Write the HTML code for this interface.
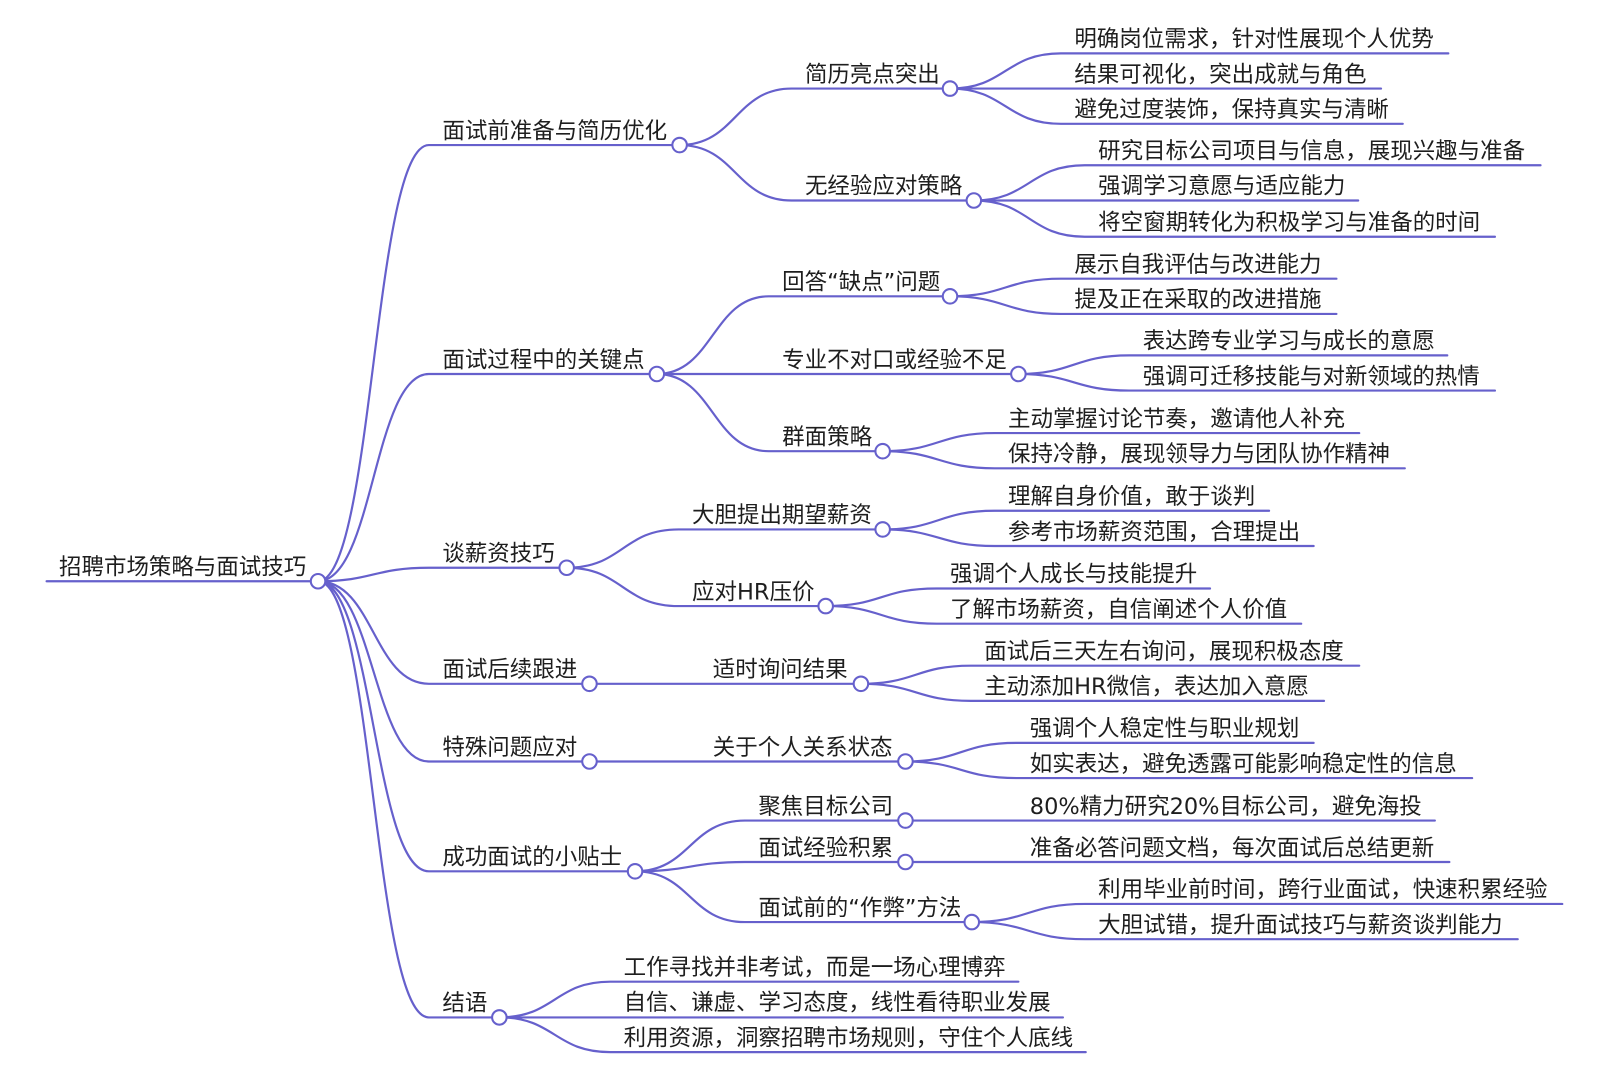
<!DOCTYPE html>
<html>
<head>
<meta charset="utf-8">
<style>
html,body{margin:0;padding:0;background:#fff;overflow:hidden;}
svg{display:block;}
text{font-family:"DejaVu Sans","Noto Sans CJK SC","WenQuanYi Zen Hei",sans-serif;font-size:21.7px;fill:#1e1e1e;}
.l{fill:none;stroke:#6660cc;stroke-width:2.1;stroke-linecap:round;}
.c{fill:#fff;stroke:#6660cc;stroke-width:2;}
</style>
</head>
<body>
<svg width="1623" height="1069" viewBox="0 0 1566.6 1031.8" preserveAspectRatio="none" xmlns="http://www.w3.org/2000/svg">
<g class="l">
<path d="M45 561H307"/>
<path d="M307 561C360.5 561 360.5 140 414 140H656"/>
<path d="M307 561C360.5 561 360.5 361 414 361H634"/>
<path d="M307 561C360.5 561 360.5 548 414 548H547"/>
<path d="M307 561C360.5 561 360.5 660 414 660H569"/>
<path d="M307 561C360.5 561 360.5 735 414 735H569"/>
<path d="M307 561C360.5 561 360.5 841 414 841H613"/>
<path d="M307 561C360.5 561 360.5 982 414 982H482"/>

<path d="M656 140C710 140 710 85.5 764 85.5H917"/>
<path d="M656 140C710 140 710 193.5 764 193.5H940"/>
<path d="M917 85.5C970.5 85.5 970.5 51.5 1024 51.5H1398"/>
<path d="M917 85.5H1333"/>
<path d="M917 85.5C970.5 85.5 970.5 119.5 1024 119.5H1354"/>
<path d="M940 193.5C993.5 193.5 993.5 159.5 1047 159.5H1487"/>
<path d="M940 193.5H1311"/>
<path d="M940 193.5C993.5 193.5 993.5 228.5 1047 228.5H1443"/>

<path d="M634 361C688 361 688 286 742 286H917"/>
<path d="M634 361H983"/>
<path d="M634 361C688 361 688 435.5 742 435.5H852"/>
<path d="M917 286C970.5 286 970.5 269 1024 269H1290"/>
<path d="M917 286C970.5 286 970.5 303 1024 303H1290"/>
<path d="M983 361C1036.5 361 1036.5 343 1090 343H1397"/>
<path d="M983 361C1036.5 361 1036.5 377 1090 377H1443"/>
<path d="M852 435.5C906 435.5 906 418 960 418H1312"/>
<path d="M852 435.5C906 435.5 906 452 960 452H1356"/>

<path d="M547 548C601 548 601 511 655 511H852"/>
<path d="M547 548C601 548 601 585 655 585H797"/>
<path d="M852 511C906 511 906 493 960 493H1225"/>
<path d="M852 511C906 511 906 527 960 527H1268"/>
<path d="M797 585C850.5 585 850.5 568 904 568H1168"/>
<path d="M797 585C850.5 585 850.5 602 904 602H1256"/>

<path d="M569 660H831"/>
<path d="M831 660C884 660 884 642.5 937 642.5H1312"/>
<path d="M831 660C884 660 884 676.5 937 676.5H1278"/>

<path d="M569 735H874"/>
<path d="M874 735C927.5 735 927.5 717 981 717H1268"/>
<path d="M874 735C927.5 735 927.5 751 981 751H1421"/>

<path d="M613 841C666 841 666 792 719 792H874"/>
<path d="M613 841C666 841 666 832 719 832H874"/>
<path d="M613 841C666 841 666 890 719 890H938"/>
<path d="M874 792H1385"/>
<path d="M874 832H1399"/>
<path d="M938 890C992.5 890 992.5 872.5 1047 872.5H1508"/>
<path d="M938 890C992.5 890 992.5 906.5 1047 906.5H1465"/>

<path d="M482 982C535.5 982 535.5 947.5 589 947.5H983"/>
<path d="M482 982H1026"/>
<path d="M482 982C535.5 982 535.5 1015.5 589 1015.5H1048"/>
</g>

<g class="c">
<circle cx="307" cy="561" r="7"/>
<circle cx="656" cy="140" r="7"/>
<circle cx="634" cy="361" r="7"/>
<circle cx="547" cy="548" r="7"/>
<circle cx="569" cy="660" r="7"/>
<circle cx="569" cy="735" r="7"/>
<circle cx="613" cy="841" r="7"/>
<circle cx="482" cy="982" r="7"/>
<circle cx="917" cy="85.5" r="7"/>
<circle cx="940" cy="193.5" r="7"/>
<circle cx="917" cy="286" r="7"/>
<circle cx="983" cy="361" r="7"/>
<circle cx="852" cy="435.5" r="7"/>
<circle cx="852" cy="511" r="7"/>
<circle cx="797" cy="585" r="7"/>
<circle cx="831" cy="660" r="7"/>
<circle cx="874" cy="735" r="7"/>
<circle cx="874" cy="792" r="7"/>
<circle cx="874" cy="832" r="7"/>
<circle cx="938" cy="890" r="7"/>
</g>

<text x="57" y="554.5">招聘市场策略与面试技巧</text>

<text x="427" y="133.5">面试前准备与简历优化</text>
<text x="427" y="354.5">面试过程中的关键点</text>
<text x="427" y="541.5">谈薪资技巧</text>
<text x="427" y="653.5">面试后续跟进</text>
<text x="427" y="728.5">特殊问题应对</text>
<text x="427" y="834.5">成功面试的小贴士</text>
<text x="427" y="975.5">结语</text>

<text x="777" y="79">简历亮点突出</text>
<text x="777" y="187">无经验应对策略</text>
<text x="1037" y="45">明确岗位需求，针对性展现个人优势</text>
<text x="1037" y="79">结果可视化，突出成就与角色</text>
<text x="1037" y="113">避免过度装饰，保持真实与清晰</text>
<text x="1060" y="153">研究目标公司项目与信息，展现兴趣与准备</text>
<text x="1060" y="187">强调学习意愿与适应能力</text>
<text x="1060" y="222">将空窗期转化为积极学习与准备的时间</text>

<text x="755" y="279.5">回答“缺点”问题</text>
<text x="755" y="354.5">专业不对口或经验不足</text>
<text x="755" y="429">群面策略</text>
<text x="1037" y="262.5">展示自我评估与改进能力</text>
<text x="1037" y="296.5">提及正在采取的改进措施</text>
<text x="1103" y="336.5">表达跨专业学习与成长的意愿</text>
<text x="1103" y="370.5">强调可迁移技能与对新领域的热情</text>
<text x="973" y="411.5">主动掌握讨论节奏，邀请他人补充</text>
<text x="973" y="445.5">保持冷静，展现领导力与团队协作精神</text>

<text x="668" y="504.5">大胆提出期望薪资</text>
<text x="668" y="578.5">应对HR压价</text>
<text x="973" y="486.5">理解自身价值，敢于谈判</text>
<text x="973" y="520.5">参考市场薪资范围，合理提出</text>
<text x="917" y="561.5">强调个人成长与技能提升</text>
<text x="917" y="595.5">了解市场薪资，自信阐述个人价值</text>

<text x="688" y="653.5">适时询问结果</text>
<text x="950" y="636">面试后三天左右询问，展现积极态度</text>
<text x="950" y="670">主动添加HR微信，表达加入意愿</text>

<text x="688" y="728.5">关于个人关系状态</text>
<text x="994" y="710.5">强调个人稳定性与职业规划</text>
<text x="994" y="744.5">如实表达，避免透露可能影响稳定性的信息</text>

<text x="732" y="785.5">聚焦目标公司</text>
<text x="732" y="825.5">面试经验积累</text>
<text x="732" y="883.5">面试前的“作弊”方法</text>
<text x="994" y="785.5">80%精力研究20%目标公司，避免海投</text>
<text x="994" y="825.5">准备必答问题文档，每次面试后总结更新</text>
<text x="1060" y="866">利用毕业前时间，跨行业面试，快速积累经验</text>
<text x="1060" y="900">大胆试错，提升面试技巧与薪资谈判能力</text>

<text x="602" y="941">工作寻找并非考试，而是一场心理博弈</text>
<text x="602" y="975">自信、谦虚、学习态度，线性看待职业发展</text>
<text x="602" y="1009">利用资源，洞察招聘市场规则，守住个人底线</text>
</svg>
</body>
</html>
